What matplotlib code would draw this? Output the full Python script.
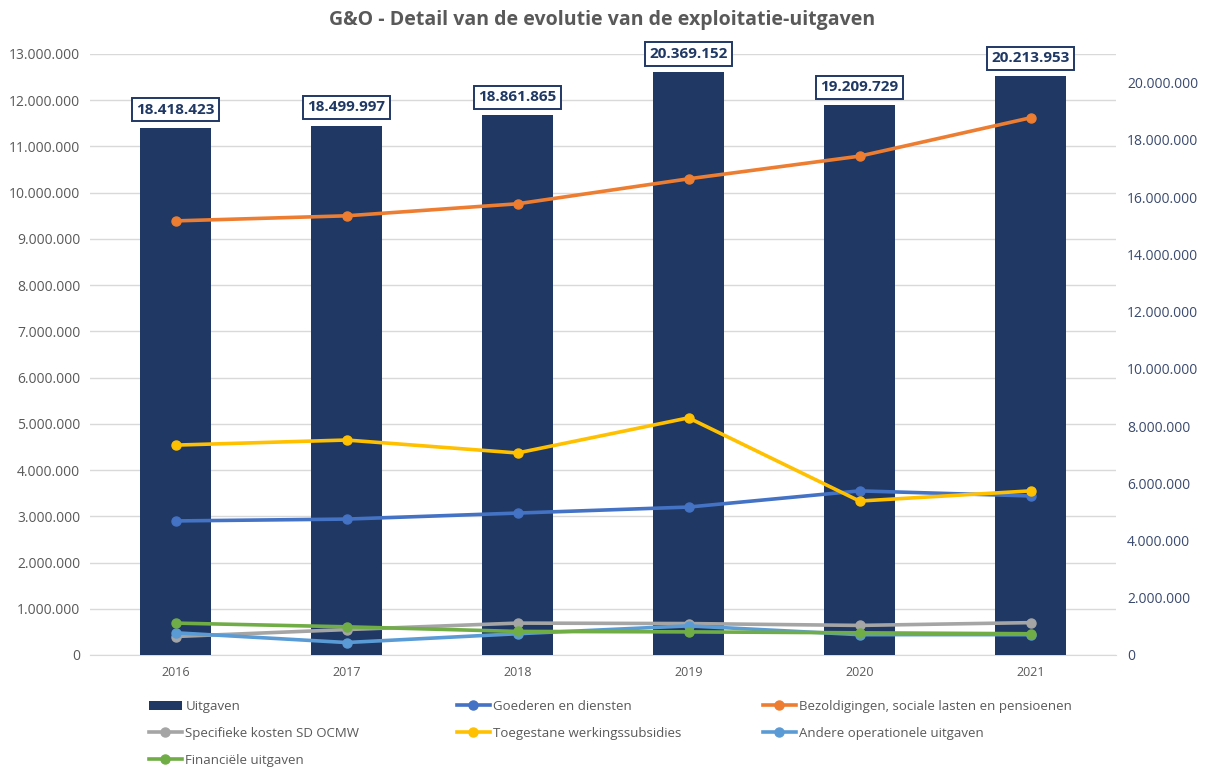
import matplotlib.pyplot as plt
from matplotlib.ticker import FuncFormatter, MultipleLocator

years = ["2016", "2017", "2018", "2019", "2020", "2021"]

# total expenses (bars, right axis)
uitgaven = [18418423, 18499997, 18861865, 20369152, 19209729, 20213953]

# detail series (lines, left axis)
goederen = [2900000, 2940000, 3070000, 3200000, 3550000, 3440000]
bezoldigingen = [9390000, 9500000, 9760000, 10300000, 10790000, 11620000]
specifieke = [400000, 550000, 690000, 680000, 640000, 700000]
toegestane = [4540000, 4650000, 4370000, 5130000, 3330000, 3550000]
andere = [480000, 270000, 460000, 630000, 440000, 440000]
financiele = [690000, 610000, 510000, 500000, 480000, 460000]

lines = [
    ("Goederen en diensten", goederen, "#4472C4"),
    ("Bezoldigingen, sociale lasten en pensioenen", bezoldigingen, "#ED7D31"),
    ("Specifieke kosten SD OCMW", specifieke, "#A5A5A5"),
    ("Toegestane werkingssubsidies", toegestane, "#FFC000"),
    ("Andere operationele uitgaven", andere, "#5B9BD5"),
    ("Financiële uitgaven", financiele, "#70AD47"),
]

plt.rcParams["font.family"] = ["Open Sans", "DejaVu Sans"]

def dots(v, pos=None):
    return f"{int(round(v)):,}".replace(",", ".")

W, H = 1205, 769
fig = plt.figure(figsize=(W / 100, H / 100), dpi=100)
ax = fig.add_axes([90 / W, 1 - 655 / H, 1026 / W, 601 / H])
axb = ax.twinx()
axl = ax.twinx()

x = list(range(len(years)))

# left axis: grid + labels
ax.set_ylim(0, 13000000)
ax.yaxis.set_major_locator(MultipleLocator(1000000))
ax.yaxis.set_major_formatter(FuncFormatter(dots))
ax.grid(axis="y", color="#D9D9D9", linewidth=1)
ax.tick_params(axis="y", length=0, labelsize=10, labelcolor="#595959", pad=7)
ax.tick_params(axis="x", length=0, labelsize=9, labelcolor="#595959", pad=8)
ax.set_xlim(-0.5, len(years) - 0.5)
ax.set_xticks(x)
ax.set_xticklabels(years)
for s in ax.spines.values():
    s.set_visible(False)
ax.spines["bottom"].set_visible(True)
ax.spines["bottom"].set_color("#D9D9D9")

# bars on the right axis
bars = axb.bar(x, uitgaven, width=0.41, color="#1F3864", label="Uitgaven", zorder=2)
axb.set_ylim(0, 21000000)
axb.set_yticks(range(0, 20000001, 2000000))
axb.yaxis.set_major_formatter(FuncFormatter(dots))
axb.tick_params(axis="y", length=0, labelsize=10, labelcolor="#3A4A6E", pad=8)
for s in axb.spines.values():
    s.set_visible(False)

for xi, v in zip(x, uitgaven):
    axb.annotate(dots(v), (xi, v), xytext=(0, 13), textcoords="offset points",
                 ha="center", va="center", fontsize=11, fontweight="bold", color="#1F3864",
                 bbox=dict(boxstyle="square,pad=0.3", fc="white", ec="#1F3864", lw=1.4))

# lines on the left scale, drawn above bars
axl.set_ylim(0, 13000000)
axl.axis("off")
handles = {}
for name, vals, col in lines:
    h, = axl.plot(x, vals, color=col, linewidth=2.6, marker="o", markersize=6.5, label=name)
    handles[name] = h

# legend as three columns at fixed positions
columns = [
    (149, [bars, handles["Specifieke kosten SD OCMW"], handles["Financiële uitgaven"]]),
    (457, [handles["Goederen en diensten"], handles["Toegestane werkingssubsidies"]]),
    (763, [handles["Bezoldigingen, sociale lasten en pensioenen"], handles["Andere operationele uitgaven"]]),
]
for xpos, hs in columns:
    fig.legend(hs, [h.get_label() for h in hs], loc="upper left",
               bbox_to_anchor=(xpos / W, 1 - 700 / H), frameon=False, fontsize=9.5,
               labelcolor="#595959", handlelength=2.5, handletextpad=0.25,
               labelspacing=1.05, borderaxespad=0, borderpad=0)

fig.text(0.5, 1 - 20 / H, "G&O - Detail van de evolutie van de exploitatie-uitgaven",
         ha="center", va="center", fontsize=14, fontweight="bold", color="#595959")

fig.savefig("out.png", dpi=100)
